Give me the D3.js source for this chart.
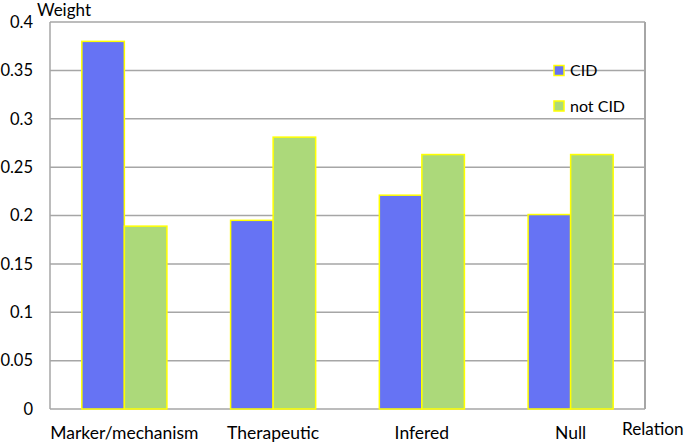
<!DOCTYPE html>
<html><head><meta charset="utf-8">
<script src="https://cdn.jsdelivr.net/npm/d3@7"></script>
<style>body{margin:0;background:#fff}svg{display:block}text{font-family:Lato,"Open Sans",sans-serif;fill:#000}</style>
</head><body>
<svg id="c" width="685" height="443"></svg>
<script>
const categories = ["Marker/mechanism", "Therapeutic", "Infered", "Null"];
const seriesNames = ["CID", "not CID"];
const cidValues = [0.380, 0.195, 0.221, 0.201];
const notCidValues = [0.189, 0.281, 0.263, 0.263];
const yTicks = [0, 0.05, 0.1, 0.15, 0.2, 0.25, 0.3, 0.35, 0.4];
const colors = ["#6673f4", "#acd97a"];

const svg = d3.select("#c");
const m = {l: 50, r: 40, t: 22, b: 34};
const W = 685, H = 443;
const x = d3.scaleBand().domain(categories).range([m.l, W - m.r]).paddingInner(0.428).paddingOuter(0.214);
const xs = d3.scaleBand().domain(seriesNames).range([0, x.bandwidth()]);
const y = d3.scaleLinear().domain([0, 0.4]).range([H - m.b, m.t]);

// gridlines
svg.append("g").selectAll("line").data(yTicks.filter(d => d > 0)).join("line")
  .attr("x1", m.l).attr("x2", W - m.r)
  .attr("y1", d => y(d)).attr("y2", d => y(d))
  .attr("stroke", "#a6a6a6").attr("stroke-width", 1.5);

// frame: left, right, bottom
svg.append("line").attr("x1", m.l).attr("x2", m.l).attr("y1", y(0.4)).attr("y2", y(0)).attr("stroke", "#a6a6a6").attr("stroke-width", 1.5);
svg.append("line").attr("x1", W - m.r).attr("x2", W - m.r).attr("y1", y(0.4)).attr("y2", y(0)).attr("stroke", "#a6a6a6").attr("stroke-width", 2);
svg.append("line").attr("x1", m.l).attr("x2", W - m.r).attr("y1", y(0)).attr("y2", y(0)).attr("stroke", "#a6a6a6").attr("stroke-width", 1.5);

const data = categories.map((c, i) => ({c, vals: [cidValues[i], notCidValues[i]]}));
const g = svg.append("g").selectAll("g").data(data).join("g").attr("transform", d => `translate(${x(d.c)},0)`);
g.selectAll("rect").data(d => d.vals.map((v, j) => ({s: seriesNames[j], v, j}))).join("rect")
  .attr("x", d => xs(d.s)).attr("width", xs.bandwidth())
  .attr("y", d => y(d.v)).attr("height", d => y(0) - y(d.v))
  .attr("fill", d => colors[d.j]).attr("stroke", "#ffff00").attr("stroke-width", 1.5);

// y tick labels
svg.append("g").selectAll("text").data(yTicks).join("text")
  .attr("x", 33).attr("y", d => y(d)).attr("dy", "0.35em").attr("text-anchor", "end")
  .attr("font-size", 16.5).text(d => d3.format("")(d));

// x labels
svg.append("g").selectAll("text").data(categories).join("text")
  .attr("x", d => x(d) + x.bandwidth() / 2).attr("y", 439).attr("text-anchor", "middle")
  .attr("font-size", 17.5).text(d => d);

svg.append("text").attr("x", 37).attr("y", 16).attr("font-size", 17).text("Weight");
svg.append("text").attr("x", 622).attr("y", 435).attr("font-size", 17.2).text("Relation");

// legend
const lg = svg.append("g").selectAll("g").data(seriesNames).join("g")
  .attr("transform", (d, i) => `translate(554,${70.5 + i * 35.5})`);
lg.append("rect").attr("x", 0).attr("y", -5).attr("width", 10).attr("height", 10)
  .attr("fill", (d, i) => colors[i]).attr("stroke", "#ffff00").attr("stroke-width", 1.5);
lg.append("text").attr("x", 16).attr("y", 0).attr("dy", "0.35em").attr("font-size", 16).text(d => d);
</script>
</body></html>
